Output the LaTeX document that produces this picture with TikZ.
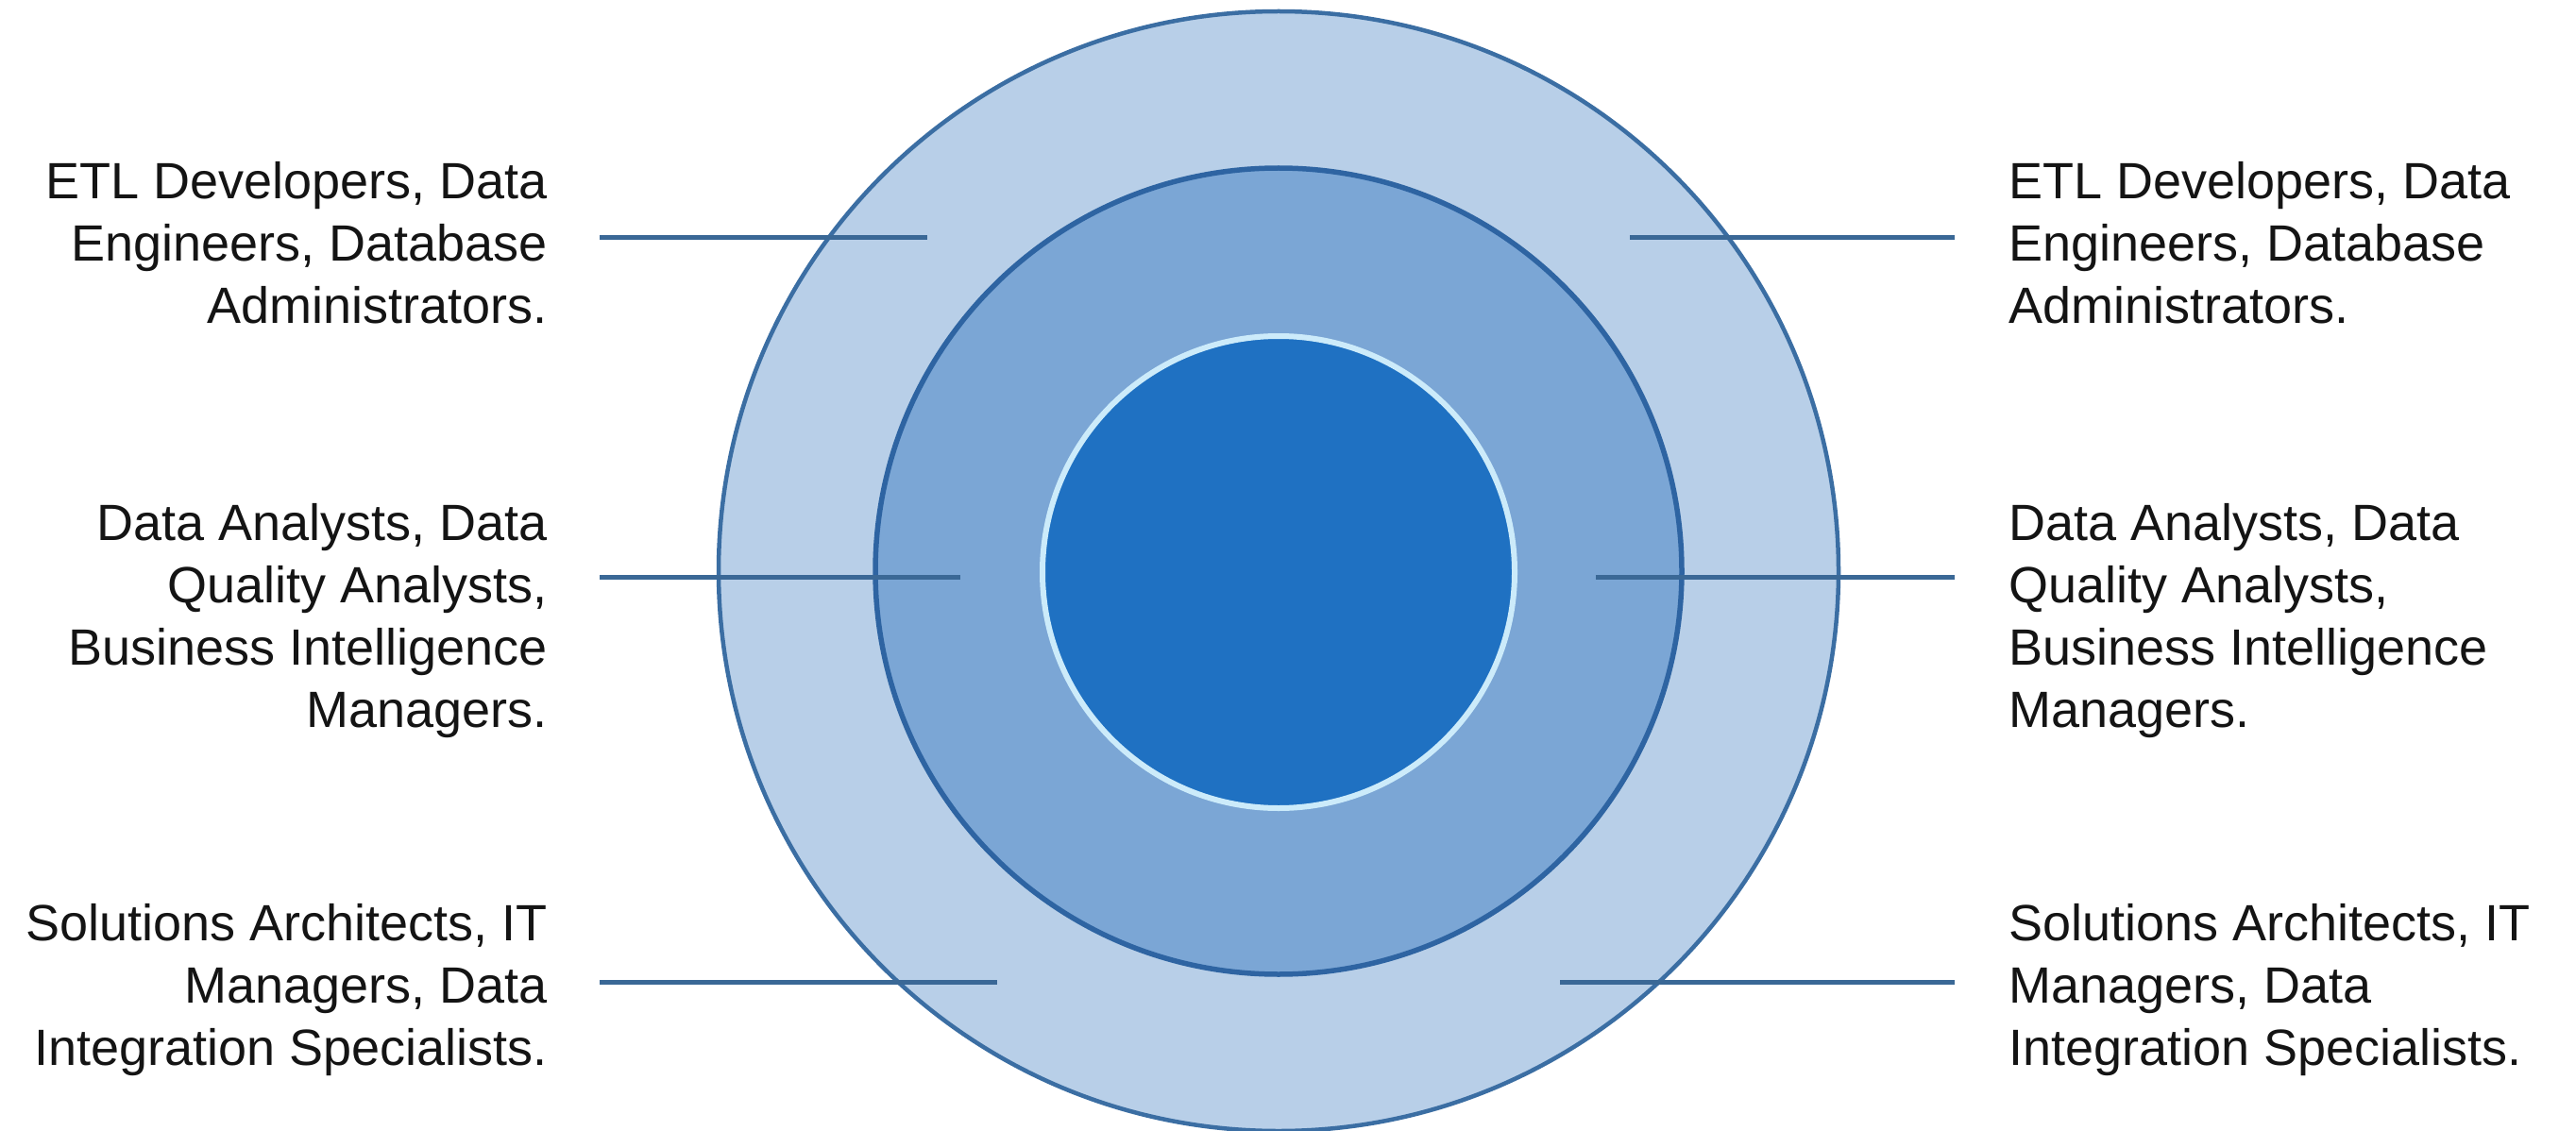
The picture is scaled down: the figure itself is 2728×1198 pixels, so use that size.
\documentclass[tikz,border=0pt]{standalone}
\usepackage{fontspec}
\setmainfont{Liberation Sans}
\definecolor{outerfill}{HTML}{B8CFE8}
\definecolor{outerline}{HTML}{3B6EA3}
\definecolor{midfill}{HTML}{7BA6D5}
\definecolor{midline}{HTML}{2E64A2}
\definecolor{corefill}{HTML}{1F71C2}
\definecolor{corering}{HTML}{CCEBFA}
\definecolor{connc}{HTML}{3A6896}
\definecolor{txtc}{HTML}{141414}
\tikzset{
  ring/.style={circle, inner sep=0pt, outer sep=0pt},
  lbl/.style={inner sep=0pt, outer sep=0pt, text=txtc, font=\fontsize{54}{66}\selectfont},
  conn/.style={draw=connc, line width=5pt}
}
\begin{document}
\begin{tikzpicture}[x=1pt,y=-1pt]
\useasboundingbox (0,0) rectangle (2728,1198);
\fill[white] (0,0) rectangle (2728,1198);

\node[ring, minimum size=1186pt, fill=outerfill, draw=outerline, line width=4.5pt] (outer) at (1354,605) {};
\node[ring, minimum size=854pt, fill=midfill, draw=midline, line width=5.5pt] (middle) at (1354,605) {};
\node[ring, minimum size=500pt, fill=corefill, draw=corering, line width=6pt] (core) at (1354,606) {};

% left labels
\node[lbl, anchor=base east] (l1) at (580,211) {\begin{tabular}[t]{@{}r@{}}ETL Developers, Data\\Engineers, Database\\Administrators.\end{tabular}};
\node[lbl, anchor=base east] (l2) at (580,572) {\begin{tabular}[t]{@{}r@{}}Data Analysts, Data\\Quality Analysts,\\Business Intelligence\\Managers.\end{tabular}};
\node[lbl, anchor=base east] (l3) at (580,996) {\begin{tabular}[t]{@{}r@{}}Solutions Architects, IT\\Managers, Data\\Integration Specialists.\end{tabular}};

% right labels
\node[lbl, anchor=base west] (r1) at (2127,211) {\begin{tabular}[t]{@{}l@{}}ETL Developers, Data\\Engineers, Database\\Administrators.\end{tabular}};
\node[lbl, anchor=base west] (r2) at (2127,572) {\begin{tabular}[t]{@{}l@{}}Data Analysts, Data\\Quality Analysts,\\Business Intelligence\\Managers.\end{tabular}};
\node[lbl, anchor=base west] (r3) at (2127,996) {\begin{tabular}[t]{@{}l@{}}Solutions Architects, IT\\Managers, Data\\Integration Specialists.\end{tabular}};

% connector ends
\coordinate (l1a) at (635,252);  \coordinate (l1b) at (982,252);
\coordinate (l2a) at (635,611);  \coordinate (l2b) at (1017,611);
\coordinate (l3a) at (635,1040); \coordinate (l3b) at (1056,1040);
\coordinate (r1a) at (2070,252);  \coordinate (r1b) at (1726,252);
\coordinate (r2a) at (2070,611);  \coordinate (r2b) at (1690,611);
\coordinate (r3a) at (2070,1040); \coordinate (r3b) at (1652,1040);

\draw[conn] (l1a) -- (l1b);
\draw[conn] (l2a) -- (l2b);
\draw[conn] (l3a) -- (l3b);
\draw[conn] (r1a) -- (r1b);
\draw[conn] (r2a) -- (r2b);
\draw[conn] (r3a) -- (r3b);
\end{tikzpicture}
\end{document}
